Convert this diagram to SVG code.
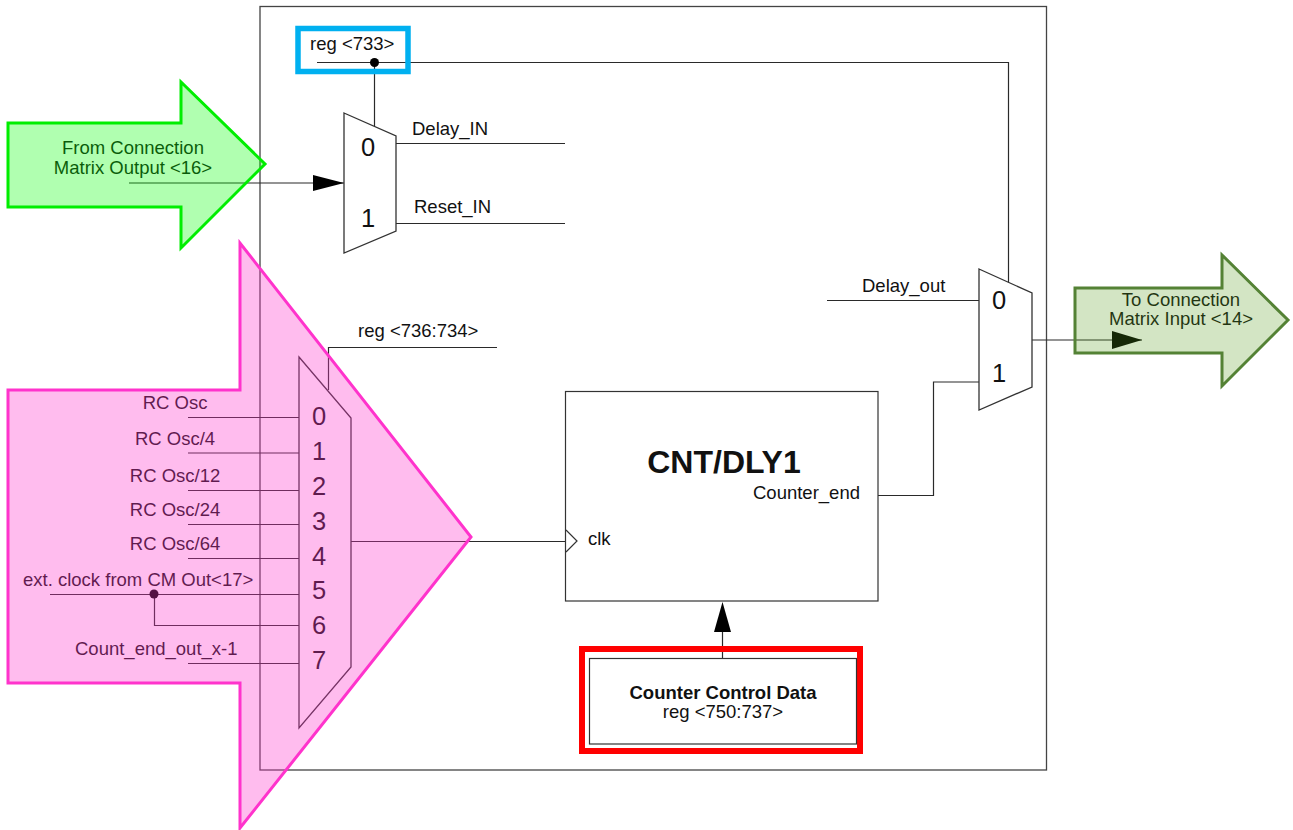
<svg xmlns="http://www.w3.org/2000/svg" width="1293" height="830" viewBox="0 0 1293 830">
<style>
text{font-family:"Liberation Sans",Arial,sans-serif;fill:#111;font-size:18.500px}
.n{font-size:25.500px;text-anchor:middle}
.m{text-anchor:middle}
.w{fill:none;stroke:#2a2a2a;stroke-width:1.2}
.s{fill:#fff;stroke:#333;stroke-width:1.3}
.h{fill:#000;stroke:none}
</style>
<rect width="1293" height="830" fill="#fff"/>
<g id="frame"><rect x="260" y="6.500" width="786.500" height="763.500" fill="none" stroke="#444" stroke-width="1.3"/></g>
<g id="connectors">
<path class="w" d="M317 62.500H1008.500V283"/>
<path class="w" d="M374.500 62.500V128"/>
<path class="w" d="M129 183H344"/>
<path class="h" d="M313 175L344 183L313 191Z"/>
<path class="w" d="M396 143.500H565"/>
<path class="w" d="M396 223.500H565"/>
<path class="w" d="M328.500 390V347.500H497"/>
<path class="w" d="M188 417.500H300M188 453H300M188 490.500H300M188 524.500H300M188 558.500H300M50 594.500H300M154.500 594.500V625.500H300M188 663.500H300"/>
<circle class="h" cx="154" cy="594" r="4.500"/>
<circle class="h" cx="374.500" cy="62.500" r="4.500"/>
<path class="w" d="M351 541.500H565"/>
<path class="w" d="M827 300.500H979"/>
<path class="w" d="M878 495.500H933.500V382H979"/>
<path class="w" d="M1032 340H1142"/>
<path class="h" d="M1112 331L1142 340L1112 349Z"/>
<path class="w" d="M722.500 658V630"/>
<path class="h" d="M722.500 602L731 632H714Z"/>
</g>
<g id="mux-top"><path class="s" d="M344 113L396 136V231L344 253Z"/><text class="n" x="368" y="156">0</text><text class="n" x="368" y="227">1</text></g>
<g id="mux-clock"><path class="s" d="M299 357L351 418V667L299 728Z"/>
<text class="n" x="319" y="425">0</text><text class="n" x="319" y="460">1</text><text class="n" x="319" y="495">2</text><text class="n" x="319" y="530">3</text><text class="n" x="319" y="565">4</text><text class="n" x="319" y="599">5</text><text class="n" x="319" y="634">6</text><text class="n" x="319" y="669">7</text></g>
<g id="mux-out"><path class="s" d="M979 269L1032 293V387L979 410Z"/><text class="n" x="999" y="309">0</text><text class="n" x="999" y="382">1</text></g>
<g id="counter"><rect x="565.500" y="391.500" width="312.500" height="209.500" fill="#fff" stroke="#333" stroke-width="1.2"/>
<path d="M566 530L577 541L566 552" fill="none" stroke="#333" stroke-width="1.2"/>
<text x="588" y="545">clk</text>
<text class="m" x="724" y="473" font-weight="bold" style="font-size:32px">CNT/DLY1</text>
<text x="753" y="499">Counter_end</text></g>
<g id="control"><rect x="582" y="649" width="278" height="102" fill="none" stroke="#f00" stroke-width="6"/>
<rect x="589.500" y="658.500" width="267" height="85.500" fill="#fff" stroke="#333" stroke-width="1.2"/>
<text class="m" x="723" y="699">
<tspan font-weight="bold">Counter Control Data</tspan></text>
<text class="m" x="723" y="718">reg &lt;750:737&gt;</text></g>
<g id="reg733"><rect x="298" y="28.500" width="110" height="43" fill="none" stroke="#00b0f0" stroke-width="5.500"/><text x="310" y="50">reg &lt;733&gt;</text></g>
<g id="labels">
<text x="412" y="135">Delay_IN</text>
<text x="414" y="213">Reset_IN</text>
<text x="358" y="337">reg &lt;736:734&gt;</text>
<text x="862" y="292">Delay_out</text>
<text class="m" x="175" y="408.500">RC Osc</text>
<text class="m" x="175" y="444.500">RC Osc/4</text>
<text class="m" x="175" y="481.500">RC Osc/12</text>
<text class="m" x="175" y="515.500">RC Osc/24</text>
<text class="m" x="175" y="549.500">RC Osc/64</text>
<text x="23" y="586">ext. clock from CM Out&lt;17&gt;</text>
<text x="75" y="655">Count_end_out_x-1</text>
<text class="m" x="133" y="154">From Connection</text>
<text class="m" x="133" y="174">Matrix Output &lt;16&gt;</text>
<text class="m" x="1181" y="306">To Connection</text>
<text class="m" x="1181" y="325">Matrix Input &lt;14&gt;</text>
</g>
<g id="arrow-from"><path d="M8 123H181V82L265 164L181 248V207H8Z" fill="#00ff00" fill-opacity=".31" stroke="#00ee00" stroke-width="3"/></g>
<g id="arrow-clock"><path d="M8 390H240V243L471 537L240 828V683H8Z" fill="#ff33cc" fill-opacity=".33" stroke="#ff33cc" stroke-width="3"/></g>
<g id="arrow-to"><path d="M1075 288H1222V255L1288 320L1222 386V353H1075Z" fill="#569b1c" fill-opacity=".26" stroke="#548235" stroke-width="3"/></g>
</svg>
